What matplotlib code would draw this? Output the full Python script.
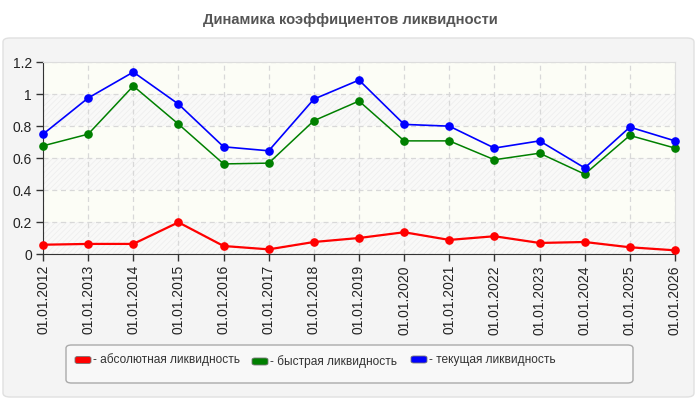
import numpy as np
import matplotlib
matplotlib.use("Agg")
import matplotlib.pyplot as plt
from matplotlib.patches import FancyBboxPatch

plt.rcParams['font.family'] = ['Liberation Sans', 'DejaVu Sans']

dates = ["01.01.2012", "01.01.2013", "01.01.2014", "01.01.2015", "01.01.2016",
         "01.01.2017", "01.01.2018", "01.01.2019", "01.01.2020", "01.01.2021",
         "01.01.2022", "01.01.2023", "01.01.2024", "01.01.2025", "01.01.2026"]
absolute_liq = [0.058, 0.063, 0.063, 0.198, 0.050, 0.029, 0.075, 0.100, 0.136,
                0.088, 0.111, 0.069, 0.075, 0.042, 0.023]
quick_liq = [0.676, 0.749, 1.050, 0.812, 0.563, 0.568, 0.833, 0.956, 0.707,
             0.707, 0.589, 0.630, 0.499, 0.741, 0.662]
current_liq = [0.749, 0.975, 1.137, 0.937, 0.670, 0.645, 0.968, 1.087, 0.810,
               0.799, 0.662, 0.707, 0.538, 0.793, 0.707]
y_ticks = [0, 0.2, 0.4, 0.6, 0.8, 1.0, 1.2]
y_labels = ["0", "0.2", "0.4", "0.6", "0.8", "1", "1.2"]

series = [
    ("- абсолютная ликвидность", absolute_liq, "#ff0000", 1.6),
    ("- быстрая ликвидность", quick_liq, "#008000", 1.1),
    ("- текущая ликвидность", current_liq, "#0000ff", 1.2),
]

fig = plt.figure(figsize=(7, 4), dpi=100)
fig.patch.set_facecolor("white")

# outer rounded panel
panel = FancyBboxPatch((3 / 700, 3 / 400), 691 / 700, 359 / 400,
                       boxstyle="round,pad=0,rounding_size=0.01",
                       transform=fig.transFigure, facecolor="#f4f4f4",
                       edgecolor="#e0e0e0", linewidth=1, zorder=-5)
fig.patches.append(panel)

fig.text(0.5, 0.95, "Динамика коэффициентов ликвидности", ha="center", va="center",
         fontsize=10.6, fontweight="bold", color="#555555")

ax = fig.add_axes([43 / 700, 146 / 400, 632 / 700, 192 / 400])
ax.set_zorder(1)
ax.set_facecolor("#fcfdf6")

x = np.arange(len(dates))

# alternating bands, hatched ones on every other step
plt.rcParams['hatch.color'] = "#ededed"
plt.rcParams['hatch.linewidth'] = 0.5
for i in range(len(y_ticks) - 1):
    if i % 2 == 0:
        ax.axhspan(y_ticks[i], y_ticks[i + 1], facecolor="#f9f9f8", edgecolor="#ededed",
                   hatch="//////", linewidth=0, zorder=0)

ax.grid(True, color="#d8d8d8", linestyle=(0, (4, 3)), linewidth=0.9, zorder=1)

for label, vals, color, lw in series:
    ax.plot(x, vals, color=color, linewidth=lw, marker="o", markersize=5.2, zorder=3,
            clip_on=False)

ax.set_xlim(0, len(dates) - 1)
ax.set_ylim(0, 1.2)
ax.set_xticks(x)
ax.set_xticklabels(dates, rotation=90, fontsize=10, color="#222222")
ax.set_yticks(y_ticks)
ax.set_yticklabels(y_labels, fontsize=10, color="#222222")
ax.tick_params(axis="both", direction="out", length=5, width=1, color="#333333", pad=3)

ax.spines["left"].set_color("#333333")
ax.spines["bottom"].set_color("#333333")
ax.spines["top"].set_color("#dddddd")
ax.spines["right"].set_color("#dddddd")

# legend box drawn by hand
leg = FancyBboxPatch((66 / 700, 17 / 400), 567 / 700, 38 / 400,
                     boxstyle="round,pad=0,rounding_size=0.008",
                     transform=fig.transFigure, facecolor="#f8f8f8",
                     edgecolor="#aaaaaa", linewidth=1, zorder=1)
fig.patches.append(leg)

handle_x = [75, 252, 411]
handle_y = [360, 361.5, 359.5]
for (label, vals, color, lw), hx, hy in zip(series, handle_x, handle_y):
    h = FancyBboxPatch((hx / 700, (400 - hy - 3.5) / 400), 16 / 700, 7 / 400,
                       boxstyle="round,pad=0,rounding_size=0.004",
                       transform=fig.transFigure, facecolor=color,
                       edgecolor="#777777", linewidth=0.6, zorder=2)
    fig.patches.append(h)
    fig.text((hx + 18) / 700, (400 - hy) / 400, label, ha="left", va="center",
             fontsize=8.6, color="#333333")

plt.savefig("out.png", dpi=100)
